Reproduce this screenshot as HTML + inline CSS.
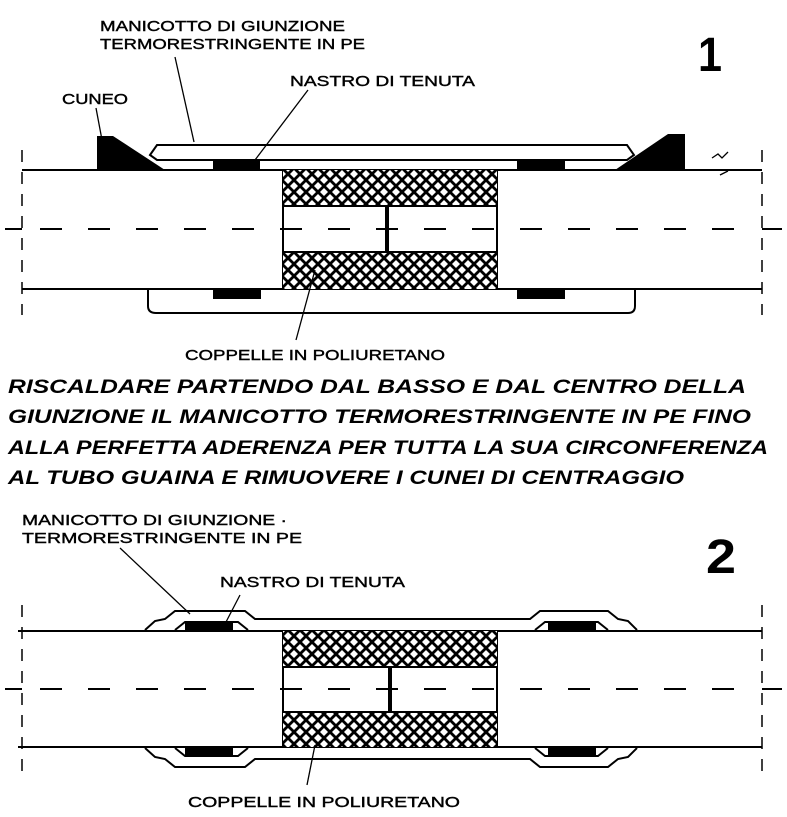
<!DOCTYPE html>
<html><head><meta charset="utf-8"><style>
html,body{margin:0;padding:0;background:#fff;width:787px;height:817px;overflow:hidden}
svg{display:block}
.l{font-family:"Liberation Sans Narrow","Liberation Sans",sans-serif;font-size:15px;fill:#000;stroke:#000;stroke-width:0.4}
.h{font-family:"Liberation Sans",sans-serif;font-size:19.5px;font-weight:bold;font-style:italic;fill:#000}
.n{font-family:"Liberation Sans Narrow","Liberation Sans",sans-serif;font-size:48px;font-weight:bold;fill:#000}
</style></head><body>
<svg width="787" height="817" viewBox="0 0 787 817" xmlns="http://www.w3.org/2000/svg">
<defs>
<pattern id="x" width="12" height="12" patternUnits="userSpaceOnUse">
<rect width="12" height="12" fill="#000"/>
<path d="M6 2 L10 6 L6 10 L2 6Z" fill="#fff"/>
<path d="M0 -4 L4 0 L0 4 L-4 0Z M12 -4 L16 0 L12 4 L8 0Z M0 8 L4 12 L0 16 L-4 12Z M12 8 L16 12 L12 16 L8 12Z" fill="#fff"/>
</pattern>
</defs>
<g stroke="#000" fill="none" stroke-width="2">
<!-- FIG 1 -->
<line x1="22" y1="150" x2="22" y2="315" stroke-dasharray="12 10" stroke-width="1.5"/>
<line x1="762" y1="150" x2="762" y2="315" stroke-dasharray="12 10" stroke-width="1.5"/>
<line x1="5" y1="229" x2="22" y2="229"/><line x1="762" y1="229" x2="782" y2="229"/>
<line x1="22" y1="170" x2="762" y2="170"/>
<line x1="22" y1="289" x2="762" y2="289"/>
<line x1="283" y1="170" x2="283" y2="289"/><line x1="497" y1="170" x2="497" y2="289"/>
<rect x="283" y="170" width="214" height="36" fill="url(#x)" stroke="none"/>
<rect x="283" y="252" width="214" height="37" fill="url(#x)" stroke="none"/>
<line x1="283" y1="206" x2="497" y2="206"/><line x1="283" y1="252" x2="497" y2="252"/>
<line x1="387" y1="206" x2="387" y2="252" stroke-width="4"/>
<line x1="40" y1="229" x2="745" y2="229" stroke-dasharray="22 26"/>
<path d="M150 155 L157 145 L627 145 L634 155 L627 160 L157 160Z"/>
<path d="M148 290 L148 306 Q148 313 156 313 L628 313 Q635 313 635 306 L635 290"/>
<path d="M97 170 L97 136 L113 136 L165 170Z M685 170 L685 134 L668 134 L615 170Z" fill="#000" stroke="none"/>
<rect x="213" y="159" width="47" height="10" fill="#000" stroke="none"/>
<rect x="517" y="159" width="48" height="10" fill="#000" stroke="none"/>
<rect x="213" y="290" width="48" height="9" fill="#000" stroke="none"/>
<rect x="517" y="290" width="48" height="9" fill="#000" stroke="none"/>
<g stroke-width="1.3">
<line x1="96" y1="108" x2="102" y2="140"/>
<line x1="175" y1="57" x2="194" y2="142"/>
<line x1="308" y1="90" x2="255" y2="160"/>
<line x1="315" y1="270" x2="296" y2="340"/>
<path d="M712 158 l6 -4 l4 4 l6 -6 M720 175 l8 -4" />
</g>
<!-- FIG 2 -->
<line x1="22" y1="605" x2="22" y2="775" stroke-dasharray="12 10" stroke-width="1.5"/>
<line x1="762" y1="605" x2="762" y2="775" stroke-dasharray="12 10" stroke-width="1.5"/>
<line x1="5" y1="689" x2="22" y2="689"/><line x1="762" y1="689" x2="782" y2="689"/>
<line x1="18" y1="631" x2="762" y2="631"/>
<line x1="18" y1="747" x2="762" y2="747"/>
<line x1="283" y1="631" x2="283" y2="747"/><line x1="497" y1="631" x2="497" y2="747"/>
<rect x="283" y="631" width="214" height="36" fill="url(#x)" stroke="none"/>
<rect x="283" y="712" width="214" height="35" fill="url(#x)" stroke="none"/>
<line x1="283" y1="667" x2="497" y2="667"/><line x1="283" y1="712" x2="497" y2="712"/>
<line x1="390" y1="667" x2="390" y2="712" stroke-width="4"/>
<line x1="40" y1="689" x2="745" y2="689" stroke-dasharray="22 26"/>
<path d="M145 630 L155 621 L165 619 L175 611 L245 611 L255 619 L530 619 L540 611 L608 611 L618 619 L628 621 L637 630"/>
<path d="M175 630 L185 622 L238 622 L248 630 M535 630 L545 622 L598 622 L608 630"/>
<path d="M145 748 L155 757 L165 759 L175 767 L245 767 L255 759 L530 759 L540 767 L608 767 L618 759 L628 757 L637 748"/>
<path d="M175 748 L185 756 L238 756 L248 748 M535 748 L545 756 L598 756 L608 748"/>
<rect x="185" y="622" width="48" height="9" fill="#000" stroke="none"/>
<rect x="548" y="622" width="48" height="9" fill="#000" stroke="none"/>
<rect x="185" y="748" width="48" height="8" fill="#000" stroke="none"/>
<rect x="548" y="748" width="48" height="8" fill="#000" stroke="none"/>
<g stroke-width="1.3">
<line x1="120" y1="548" x2="190" y2="614"/>
<line x1="240" y1="595" x2="226" y2="622"/>
<line x1="315" y1="745" x2="307" y2="785"/>
</g>
</g>
<g>
<text class="l" x="100" y="31" textLength="245" lengthAdjust="spacingAndGlyphs">MANICOTTO DI GIUNZIONE</text>
<text class="l" x="100" y="49" textLength="265" lengthAdjust="spacingAndGlyphs">TERMORESTRINGENTE IN PE</text>
<text class="l" x="290" y="86" textLength="185" lengthAdjust="spacingAndGlyphs">NASTRO DI TENUTA</text>
<text class="l" x="62" y="104" textLength="66" lengthAdjust="spacingAndGlyphs">CUNEO</text>
<text class="n" x="698" y="71" textLength="24" lengthAdjust="spacingAndGlyphs">1</text>
<text class="l" x="185" y="360" textLength="260" lengthAdjust="spacingAndGlyphs">COPPELLE IN POLIURETANO</text>
<text class="h" x="8" y="393" textLength="738" lengthAdjust="spacingAndGlyphs">RISCALDARE PARTENDO DAL BASSO E DAL CENTRO DELLA</text>
<text class="h" x="8" y="423" textLength="743" lengthAdjust="spacingAndGlyphs">GIUNZIONE IL MANICOTTO TERMORESTRINGENTE IN PE FINO</text>
<text class="h" x="8" y="454" textLength="760" lengthAdjust="spacingAndGlyphs">ALLA PERFETTA ADERENZA PER TUTTA LA SUA CIRCONFERENZA</text>
<text class="h" x="8" y="484" textLength="676" lengthAdjust="spacingAndGlyphs">AL TUBO GUAINA E RIMUOVERE I CUNEI DI CENTRAGGIO</text>
<text class="l" x="22" y="525" textLength="265" lengthAdjust="spacingAndGlyphs">MANICOTTO DI GIUNZIONE ·</text>
<text class="l" x="22" y="543" textLength="280" lengthAdjust="spacingAndGlyphs">TERMORESTRINGENTE IN PE</text>
<text class="l" x="220" y="587" textLength="185" lengthAdjust="spacingAndGlyphs">NASTRO DI TENUTA</text>
<text class="n" x="706" y="573" textLength="30" lengthAdjust="spacingAndGlyphs">2</text>
<text class="l" x="188" y="807" textLength="272" lengthAdjust="spacingAndGlyphs">COPPELLE IN POLIURETANO</text>
</g>
</svg>
</body></html>
